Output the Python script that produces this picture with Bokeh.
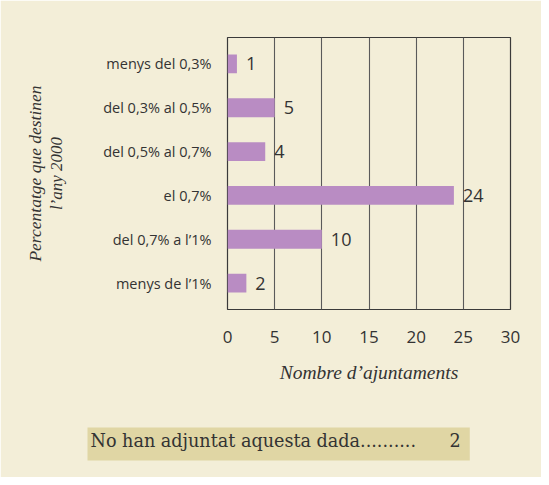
from bokeh.plotting import figure
from bokeh.models import Range1d, FactorRange, FixedTicker, ColumnDataSource, Title
from bokeh.core.properties import value
from bokeh.embed import file_html
from bokeh.resources import INLINE

categories = ["menys del 0,3%", "del 0,3% al 0,5%", "del 0,5% al 0,7%",
              "el 0,7%", "del 0,7% a l\u20191%", "menys de l\u20191%"]
counts = [1, 5, 4, 24, 10, 2]
x_ticks = [0, 5, 10, 15, 20, 25, 30]
missing_label = "No han adjuntat aquesta dada.........."
missing_count = 2

BG = "#f3eed8"
BOX = "#e0d6a4"
BAR = "#b98cc3"
TXT = "#333333"
SANS = "Open Sans"
SERIF = "Liberation Serif"
NBSP = "\u00a0"

src = ColumnDataSource(dict(cat=categories, n=counts, lab=[str(c) for c in counts]))

yr = FactorRange(factors=list(reversed(categories)), range_padding=0.1,
                 range_padding_units="absolute")
p = figure(width=541, height=477, y_range=yr,
           x_range=Range1d(0, 30), output_backend="svg", toolbar_location=None,
           min_border_left=227, min_border_right=31, min_border_top=37,
           min_border_bottom=168)
p.background_fill_color = BG
p.border_fill_color = BG
p.outline_line_color = "#3a3a3a"
p.outline_line_width = 1.2

p.hbar(y="cat", left=0, right="n", height=0.43, source=src, color=BAR, line_color=None)
p.text(x="n", y="cat", text="lab", source=src, x_offset=9, text_baseline="middle",
       text_align="left", text_font=value(SANS), text_font_size="18px", text_color=TXT)

p.ygrid.grid_line_color = None
p.xgrid.grid_line_color = "#5a5a5a"
p.xgrid.grid_line_width = 1.1
p.xaxis.ticker = FixedTicker(ticks=x_ticks)

for ax in (p.xaxis[0], p.yaxis[0]):
    ax.axis_line_color = None
    ax.major_tick_line_color = None
    ax.minor_tick_line_color = None
    ax.major_label_text_color = TXT
    ax.major_label_text_font = SANS

p.yaxis.major_label_text_font_size = "14.5px"
p.yaxis.major_label_standoff = 10
p.xaxis.major_label_text_font_size = "17px"
p.xaxis.major_label_standoff = 15

p.xaxis.axis_label = "Nombre d\u2019ajuntaments"
p.xaxis.axis_label_text_font = SERIF
p.xaxis.axis_label_text_font_style = "italic"
p.xaxis.axis_label_text_font_size = "19.5px"
p.xaxis.axis_label_text_color = TXT
p.xaxis.axis_label_standoff = 16

# two-line y title: inner line as the axis label, outer line as a title
p.yaxis.axis_label = "l\u2019any 2000"
p.yaxis.axis_label_text_font = SERIF
p.yaxis.axis_label_text_font_style = "italic"
p.yaxis.axis_label_text_font_size = "17px"
p.yaxis.axis_label_text_color = TXT
p.yaxis.axis_label_standoff = 34

t1 = Title(text="Percentatge que destinen", align="center", text_font=SERIF,
           text_font_style="italic", text_font_size="17.5px", text_color=TXT,
           standoff=0)
p.add_layout(t1, "left")

# invisible spacer between the x axis and the footnote strip
spacer = Title(text=NBSP, text_font_size="1px", standoff=22, text_color=BG)
p.add_layout(spacer, "below")

# footnote strip
note = Title(text=missing_label + NBSP * 6 + str(missing_count), align="left",
             offset=-140, standoff=30, text_font="DejaVu Serif",
             text_font_style="normal", text_font_size="17.6px", text_color=TXT,
             background_fill_color=BOX, padding=(3, 9, 3, 10))
p.add_layout(note, "below")

open("out.html", "w").write(file_html(p, INLINE))
